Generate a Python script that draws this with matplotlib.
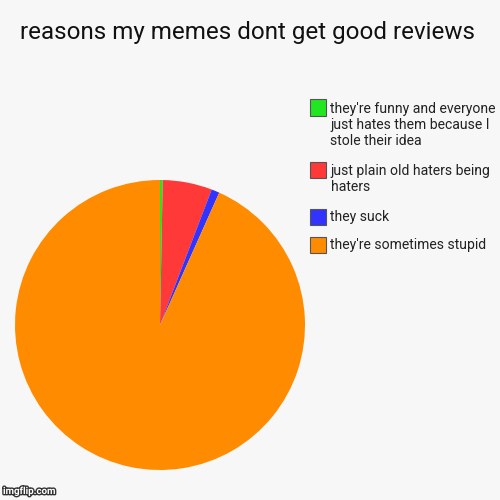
import matplotlib.pyplot as plt
from matplotlib.patches import Rectangle
import matplotlib.patheffects as pe

plt.rcParams['font.family'] = ['Roboto', 'DejaVu Sans']

# slices, clockwise from 12 o'clock (same order as the legend)
labels = ["they're funny and everyone\njust hates them because I\nstole their idea",
          "just plain old haters being\nhaters",
          "they suck",
          "they're sometimes stupid"]
values = [0.3, 5.5, 0.9, 93.3]
colors = ['#22e622', '#ff3838', '#3333ff', '#ff8c00']

bg = '#f7f7f7'
fig = plt.figure(figsize=(5, 5), dpi=100, facecolor=bg)

ax = fig.add_axes([0.03, 0.06, 0.58, 0.58])
ax.pie(values, colors=colors, startangle=90, counterclock=False,
       wedgeprops={'linewidth': 0})
ax.set_xlim(-1, 1)
ax.set_ylim(-1, 1)
ax.set_aspect('equal')
ax.set_facecolor(bg)

fig.text(0.04, 0.935, 'reasons my memes dont get good reviews',
         fontsize=17.4, color='#111111', va='center', ha='left')

# legend drawn by hand
ys = [0.801, 0.677, 0.583, 0.527]  # top of each swatch
for lab, col, y in zip(labels, colors, ys):
    fig.patches.append(Rectangle((0.619, y - 0.032), 0.033, 0.032,
                                 transform=fig.transFigure,
                                 facecolor=col, edgecolor='#555555',
                                 linewidth=0.8))
    fig.text(0.661, y - 0.004, lab, fontsize=10.1, color='#222222',
             va='top', ha='left', linespacing=1.22)

fig.text(0.006, 0.018, 'imgflip.com', fontsize=7, fontweight='bold',
         color='white', ha='left', va='center',
         path_effects=[pe.withStroke(linewidth=2, foreground='#333333')])

fig.savefig('out.png', dpi=100, facecolor=bg)
